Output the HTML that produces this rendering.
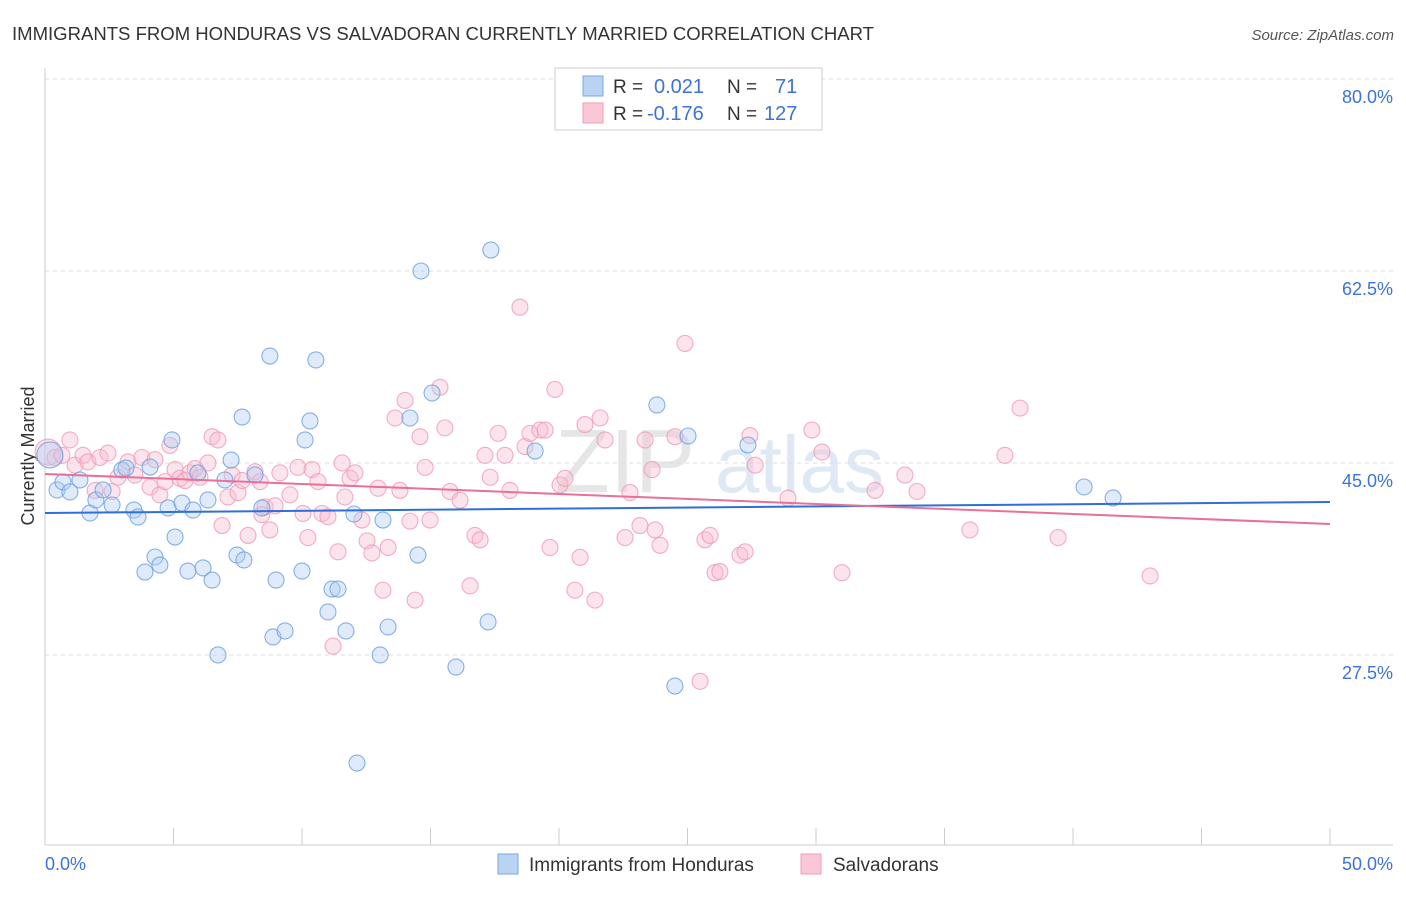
<!DOCTYPE html>
<html><head><meta charset="utf-8"><style>
body{margin:0;background:#fff;font-family:"Liberation Sans",sans-serif}
svg text{font-family:"Liberation Sans",sans-serif}
</style></head><body>
<svg id="chart" width="1406" height="892" xmlns="http://www.w3.org/2000/svg">
<text x="12" y="40" font-size="18" fill="#333" textLength="862" lengthAdjust="spacingAndGlyphs">IMMIGRANTS FROM HONDURAS VS SALVADORAN CURRENTLY MARRIED CORRELATION CHART</text>
<text x="1394" y="40" font-size="15" fill="#555" font-style="italic" text-anchor="end">Source: ZipAtlas.com</text>
<text x="34" y="456" font-size="18" fill="#333" text-anchor="middle" transform="rotate(-90 34 456)">Currently Married</text>
<g><text x="555" y="492" font-size="90" fill="#e6e6e6" font-family="Liberation Serif">ZIP</text><text x="715" y="492" font-size="80" fill="#dfe8f5">atlas</text></g>
<g id="grid"></g><g id="axes"></g><g id="pts"></g><g id="trend"></g>
<g>
<rect x="555" y="68" width="267" height="62" fill="#fff" stroke="#ccc"/>
<rect x="583" y="76" width="20" height="20" fill="#b9d3f3" stroke="#7aa6e0"/>
<rect x="583" y="103" width="20" height="20" fill="#f9c7d6" stroke="#ee9fb8"/>
<text x="613" y="93" font-size="19" fill="#333">R = </text><text x="654" y="93" font-size="20" fill="#3d72d9">0.021</text>
<text x="727" y="93" font-size="19" fill="#333">N = </text><text x="775" y="93" font-size="20" fill="#3d72d9">71</text>
<text x="613" y="120" font-size="19" fill="#333">R = </text><text x="647" y="120" font-size="20" fill="#3d72d9">-0.176</text>
<text x="727" y="120" font-size="19" fill="#333">N = </text><text x="764" y="120" font-size="20" fill="#3d72d9">127</text>
</g>
<g>
<rect x="498" y="854" width="20" height="20" fill="#b9d3f3" stroke="#7aa6e0"/>
<text x="529" y="871" font-size="19" fill="#333">Immigrants from Honduras</text>
<rect x="801" y="854" width="20" height="20" fill="#f9c7d6" stroke="#ee9fb8"/>
<text x="833" y="871" font-size="19" fill="#333">Salvadorans</text>
</g>
</svg>
<script>
const xTicks=[0,5,10,15,20,25,30,35,40,45,50];
const yTicks=[27.5,45.0,62.5,80.0];
const blueX=[0.19,0.47,0.70,0.97,1.36,1.75,1.98,2.26,2.61,2.99,3.15,3.46,3.62,3.89,4.09,4.28,4.47,4.79,4.94,5.06,5.33,5.56,5.76,5.95,6.15,6.34,6.50,6.73,7.00,7.24,7.47,7.67,7.74,8.17,8.44,8.75,8.87,8.99,9.34,10.0,10.12,10.31,10.54,11.01,11.17,11.40,11.71,12.02,12.14,13.04,13.15,13.35,14.20,14.51,14.63,15.06,15.99,17.24,17.35,19.07,23.81,24.51,25.02,27.35,40.43,41.56];
const blueY=[45.73,42.54,43.27,42.36,43.45,40.44,41.63,42.54,41.17,44.36,44.54,40.71,40.08,35.06,44.63,36.43,35.70,40.90,47.10,38.25,41.35,35.15,40.71,44.09,35.43,41.63,34.33,27.50,43.45,45.27,36.61,49.19,36.16,43.91,40.90,54.75,29.14,34.33,29.69,35.15,47.10,48.83,54.39,31.42,33.51,33.51,29.69,40.35,17.65,27.50,39.80,30.05,49.10,36.61,62.50,51.38,26.40,30.51,64.41,46.09,50.29,24.67,47.46,46.64,42.81,41.81];
const pinkX=[0.12,0.39,0.66,0.97,1.17,1.48,1.67,1.95,2.14,2.45,2.61,2.84,3.23,3.50,3.77,4.09,4.28,4.47,4.67,4.86,5.06,5.25,5.45,5.64,5.84,6.03,6.34,6.50,6.73,6.89,7.12,7.28,7.51,7.67,7.90,8.17,8.37,8.44,8.56,8.75,8.95,9.14,9.53,9.84,10.04,10.23,10.39,10.62,10.78,11.01,11.21,11.40,11.56,11.67,11.87,12.06,12.33,12.53,12.72,12.96,13.15,13.35,13.62,13.81,14.01,14.20,14.40,14.59,14.79,14.98,15.37,15.56,15.76,16.15,16.54,16.73,16.93,17.12,17.32,17.63,17.90,18.09,18.48,18.68,18.87,19.26,19.46,19.65,19.84,20.04,20.23,20.62,20.82,21.01,21.40,21.60,21.79,22.57,22.76,23.15,23.35,23.62,23.74,23.93,24.51,24.90,25.49,25.68,25.88,26.07,26.26,27.04,27.24,27.43,27.63,28.91,29.84,30.23,31.01,32.30,33.46,33.93,35.99,37.35,37.94,39.42,43.00];
const pinkY=[46.0,45.5,45.7,47.1,44.8,45.7,45.1,42.5,45.5,45.9,42.4,43.7,45.1,43.9,45.5,42.8,45.3,42.1,43.3,46.6,44.4,43.6,43.4,44.1,44.5,43.7,45.0,47.4,47.1,39.3,41.9,43.9,42.3,43.4,38.4,44.2,43.3,40.3,41.0,38.9,41.1,44.1,42.1,44.6,40.4,38.2,44.4,43.3,40.4,40.1,28.3,36.9,45.0,41.9,43.6,44.1,39.8,37.9,36.8,42.7,33.4,37.3,49.1,42.5,50.7,39.7,32.5,47.4,44.6,39.8,51.9,48.2,42.4,41.6,33.8,38.4,38.0,45.7,43.7,47.7,45.7,42.5,59.2,46.5,47.7,48.0,48.0,37.3,51.7,43.0,43.6,33.4,36.4,48.5,32.5,49.1,47.1,38.2,42.3,39.3,47.1,44.4,38.9,37.5,47.4,55.9,25.1,38.0,38.4,35.0,35.1,36.6,36.9,47.5,44.8,41.8,48.0,46.0,35.0,42.5,43.9,42.4,38.9,45.7,50.0,38.2,34.7];
const blueTrend=[40.44,41.44];
const pinkTrend=[44.0,39.44];
const NS='http://www.w3.org/2000/svg';
const sx=v=>45+v*25.7;
const sy=v=>79+(80-v)*10.971;
function mk(tag,attrs,parent){const e=document.createElementNS(NS,tag);for(const k in attrs)e.setAttribute(k,attrs[k]);parent.appendChild(e);return e;}
const grid=document.getElementById('grid'),axes=document.getElementById('axes'),pts=document.getElementById('pts'),trend=document.getElementById('trend');
yTicks.forEach(t=>{
 const l=mk('line',{x1:45,x2:1393,y1:sy(t),y2:sy(t),stroke:'#ddd','stroke-dasharray':'4,4'},grid);
 
 
 const tx=mk('text',{x:1393,y:sy(t)+24,'font-size':18,fill:'#3d72d9','text-anchor':'end'},axes);
 tx.textContent=t.toFixed(1)+'%';
 
 
});
const ya=mk('line',{x1:45,x2:45,y1:68,y2:845,stroke:'#ccc'},axes);


const xa=mk('line',{x1:45,x2:1393,y1:845,y2:845,stroke:'#ccc'},axes);


xTicks.forEach(t=>{
 const l=mk('line',{x1:sx(t),x2:sx(t),y1:828,y2:845,stroke:'#ccc'},axes);
 
 
});
[[0,'0.0%','start',45],[50,'50.0%','end',1393]].forEach(a=>{
 const tx=mk('text',{x:a[3],y:870,'font-size':18,fill:'#3d72d9','text-anchor':a[2]},axes);
 tx.textContent=a[1];
 
 
});
function drawPts(X,Y,fill,stroke,name){
 X.forEach((x,i)=>{
  const c=mk('circle',{cx:sx(x),cy:sy(Y[i]),r:i===0?13:8,fill:fill,'fill-opacity':0.4,stroke:stroke,'stroke-opacity':0.8,'stroke-width':1.1},pts);
  
  
 });
}
drawPts(pinkX,pinkY,'#f7bcd0','#f099b6','salvadoran-point');
drawPts(blueX,blueY,'#b0cdf2','#6c9ee0','honduras-point');
const bl=mk('line',{x1:sx(0),x2:sx(50),y1:sy(blueTrend[0]),y2:sy(blueTrend[1]),stroke:'#2f6fd6','stroke-width':2},trend);


const pl=mk('line',{x1:sx(0),x2:sx(50),y1:sy(pinkTrend[0]),y2:sy(pinkTrend[1]),stroke:'#e8709a','stroke-width':2},trend);


</script>
</body></html>
